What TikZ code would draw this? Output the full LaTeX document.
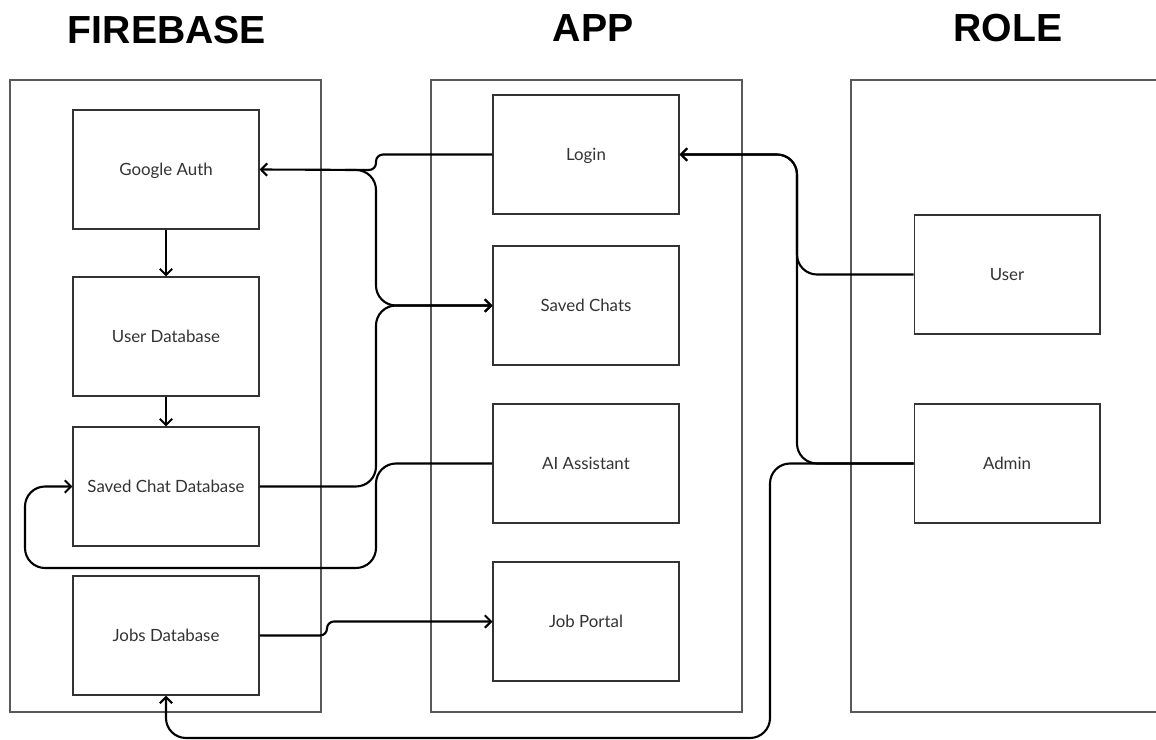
\documentclass[tikz,border=0pt]{standalone}
\usepackage{fontspec}
\setmainfont{Lato}
\newfontfamily\titlefont{Liberation Sans}
\usetikzlibrary{arrows.meta}
\begin{document}
\begin{tikzpicture}[x=0.02cm,y=-0.02cm,
  panel/.style={draw=black!65,line width=0.6pt,fill=none},
  box/.style={draw=black!80,line width=0.6pt,minimum width=3.72cm,minimum height=2.38cm,inner sep=0pt,font=\fontsize{9.6}{11}\selectfont,text=black!80,text depth=0.6pt},
  title/.style={font=\titlefont\fontsize{22.3}{26}\selectfont\bfseries,text=black,inner sep=0pt},
  conn/.style={line width=1.2pt,rounded corners=0.4cm,-{Straight Barb[length=3.5pt,width=7pt]}},
  connS/.style={line width=1.2pt,rounded corners=0.14cm,-{Straight Barb[length=3.5pt,width=7pt]}}]
\useasboundingbox (0,0) rectangle (1156,740);
% titles
\node[title] (tfire) at (167,30) {FIREBASE};
\node[title] (tapp) at (593,28) {APP};
\node[title] (trole) at (1008,28) {ROLE};
% panels
\draw[panel] (10,80) rectangle (321,712);
\draw[panel] (431,80) rectangle (742,712);
\draw[panel] (851,80) rectangle (1180,712);
% firebase boxes
\node[box] (gauth) at (166,169.5) {Google Auth};
\node[box] (udb) at (166,336.5) {User Database};
\node[box] (scdb) at (166,486.5) {Saved Chat Database};
\node[box] (jdb) at (166,635.5) {Jobs Database};
% app boxes
\node[box] (login) at (586,154.5) {Login};
\node[box] (saved) at (586,305.5) {Saved Chats};
\node[box] (ai) at (586,463.5) {AI Assistant};
\node[box] (jp) at (586,621.5) {Job Portal};
% role boxes
\node[box] (user) at (1007,274.5) {User};
\node[box] (admin) at (1007,463.5) {Admin};
% helper coordinates
\coordinate (j1) at (345,170);
\coordinate (bot) at (0,738);
% connectors
\draw[conn] (gauth) -- (udb);
\draw[conn] (udb) -- (scdb);
\draw[connS] (login.west) -- (376,154.5) -- (376,170) -- (gauth.east);
\draw[conn] (j1) -- (376,170) -- (376,305.5) -- (saved.west);
\draw[conn] (scdb.east) -- (376,486.5) -- (376,305.5) -- (saved.west);
\draw[conn] (ai.west) -- (376,463.5) -- (376,568) -- (25,568) -- (25,486.5) -- (scdb.west);
\draw[connS] (jdb.east) -- (327,635.5) -- (327,621.5) -- (jp.west);
\draw[conn] (user.west) -- (797,274.5) -- (797,154.5) -- (login.east);
\draw[conn] (admin.west) -- (797,463.5) -- (797,154.5) -- (login.east);
\draw[conn] (admin.west) -- (770,463.5) -- (770,738) -- (jdb.south |- bot) -- (jdb.south);
\end{tikzpicture}
\end{document}
